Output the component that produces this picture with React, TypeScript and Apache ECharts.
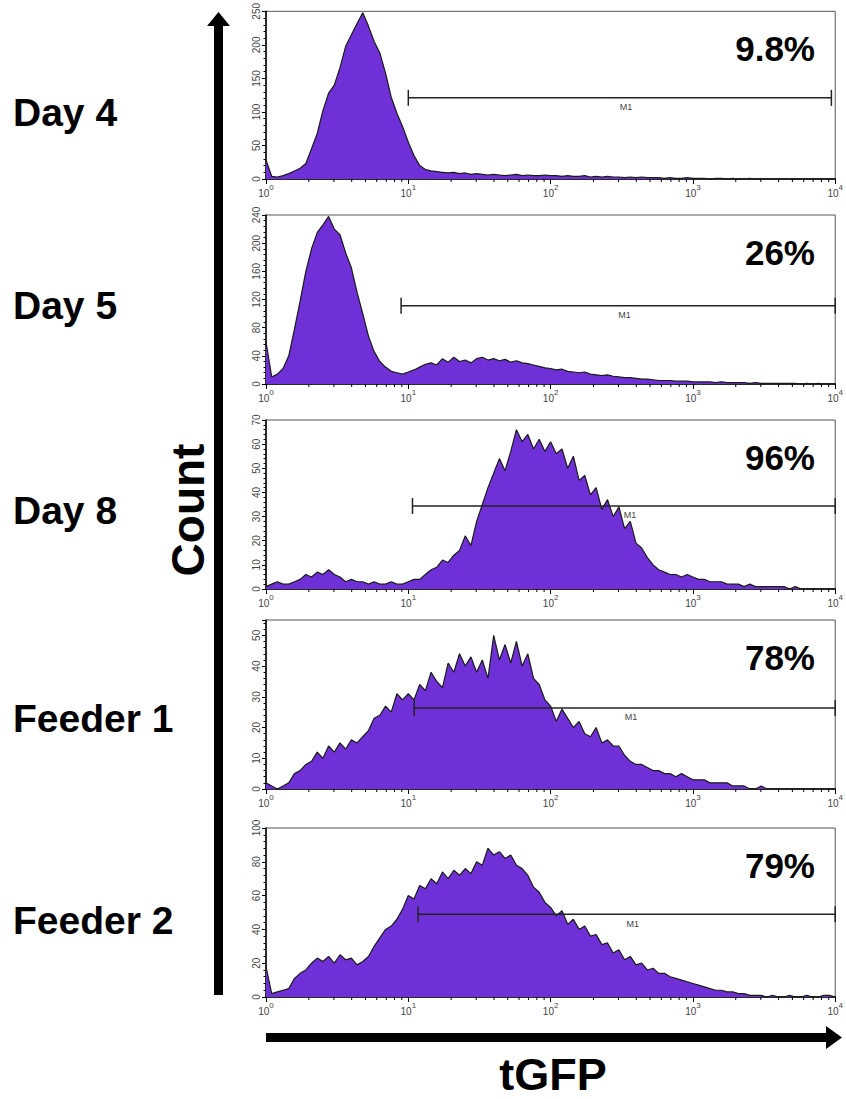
import React, { useEffect, useRef } from "react";
import * as echarts from "echarts";

// ---------- data ----------
const panelNames = ["Day 4", "Day 5", "Day 8", "Feeder 1", "Feeder 2"];
const percentLabels = ["9.8%", "26%", "96%", "78%", "79%"];
const yMax = [250, 240, 70, 55, 100];
const yInterval = [50, 40, 10, 10, 20];
const gateStart = [10, 8.9, 10.7, 11, 11.7];
const gateEnd = [9400, 10000, 10000, 10000, 10000];
const gateLevel = [121, 111, 34.4, 26.4, 49];
const gateLabel = "M1";
const xMinorTicks = [
  2, 3, 4, 5, 6, 7, 8, 9,
  20, 30, 40, 50, 60, 70, 80, 90,
  200, 300, 400, 500, 600, 700, 800, 900,
  2000, 3000, 4000, 5000, 6000, 7000, 8000, 9000,
];
const channelsPerDecade = 25;

const day4 = [
  28, 4, 3, 5, 8, 12, 16, 23, 45, 68,
  102, 128, 140, 166, 198, 215, 232, 248, 228, 205,
  188, 158, 122, 98, 78, 55, 35, 20, 14, 12,
  11, 10, 9, 10, 8, 9, 7, 8, 7, 6,
  7, 6, 5, 6, 7, 5, 6, 5, 5, 6,
  5, 5, 4, 5, 4, 4, 5, 3, 4, 3,
  4, 3, 3, 2, 3, 2, 3, 2, 2, 2,
  1, 2, 1, 1, 2, 1, 1, 1, 0, 1,
  1, 0, 1, 0, 0, 1, 0, 0, 0, 0,
  0, 0, 0, 0, 0, 0, 0, 0, 0, 0, 0,
];
const day5 = [
  60, 10, 14, 22, 40, 78, 118, 160, 192, 215,
  226, 238, 220, 212, 186, 165, 130, 100, 68, 46,
  32, 24, 18, 16, 14, 17, 20, 24, 28, 30,
  27, 36, 31, 38, 32, 34, 30, 36, 38, 34,
  36, 33, 35, 31, 33, 30, 29, 27, 25, 23,
  22, 20, 21, 18, 17, 16, 17, 14, 13, 12,
  13, 11, 10, 9, 9, 8, 7, 7, 6, 5,
  5, 5, 4, 4, 4, 3, 3, 3, 3, 2,
  3, 2, 2, 2, 2, 1, 2, 1, 1, 1,
  1, 1, 1, 1, 0, 1, 0, 1, 0, 0, 0,
];
const day8 = [
  1, 2, 3, 2, 2, 3, 4, 6, 5, 7,
  6, 8, 6, 5, 3, 4, 3, 3, 2, 3,
  2, 2, 3, 2, 2, 3, 4, 4, 6, 8,
  9, 12, 11, 14, 16, 22, 18, 28, 35, 42,
  48, 54, 49, 57, 66, 61, 64, 58, 62, 57,
  61, 56, 58, 50, 55, 45, 47, 39, 42, 33,
  37, 30, 34, 25, 28, 19, 17, 13, 10, 8,
  7, 6, 6, 5, 6, 5, 4, 4, 3, 3,
  3, 2, 2, 2, 1, 2, 1, 1, 1, 1,
  1, 1, 0, 1, 0, 0, 0, 0, 0, 0, 0,
];
const feeder1 = [
  2, 1, 0, 1, 2, 5, 6, 8, 9, 12,
  10, 14, 12, 15, 13, 16, 15, 17, 19, 23,
  24, 27, 25, 31, 29, 31, 29, 34, 32, 38,
  35, 33, 41, 38, 44, 40, 43, 38, 42, 36,
  50, 42, 47, 41, 48, 40, 44, 36, 34, 29,
  27, 22, 26, 23, 20, 22, 18, 17, 20, 15,
  16, 14, 14, 11, 9, 8, 8, 7, 6, 6,
  5, 5, 4, 5, 4, 3, 3, 3, 2, 2,
  2, 2, 1, 1, 1, 0, 0, 1, 0, 0,
  0, 0, 0, 0, 0, 0, 0, 0, 0, 0, 0,
];
const feeder2 = [
  18, 2, 3, 4, 5, 11, 14, 16, 20, 23,
  21, 24, 20, 25, 22, 23, 19, 21, 24, 30,
  35, 40, 42, 46, 52, 60, 58, 66, 64, 70,
  67, 74, 70, 75, 72, 76, 73, 80, 78, 88,
  84, 86, 82, 84, 78, 76, 72, 65, 62, 56,
  53, 48, 51, 43, 46, 40, 42, 36, 37, 31,
  32, 26, 28, 22, 24, 19, 20, 16, 17, 14,
  14, 12, 11, 10, 9, 8, 7, 6, 5, 4,
  4, 3, 3, 2, 2, 1, 1, 1, 0, 1,
  0, 0, 1, 0, 0, 1, 0, 0, 1, 1, 0,
];
const histograms = [day4, day5, day8, feeder1, feeder2];

// ---------- layout / style ----------
const W = 846;
const H = 1099;
const PLOT_LEFT = 266;
const PLOT_W = 572;
const PANEL_TOP = [10, 215, 420, 620, 828];
const PANEL_H = 169;
const LABEL_Y = [112, 305, 510, 718, 920];
const PCT_Y = [48, 252, 457, 657, 865];
const FILL = "#7030d8";
const FONT = '"Liberation Sans", Arial, sans-serif';

export default function App() {
  const ref = useRef<HTMLDivElement>(null);

  useEffect(() => {
    if (!ref.current) return;
    const chart = echarts.init(ref.current, undefined, { renderer: "svg" });

    const grids: any[] = [];
    const xAxes: any[] = [];
    const yAxes: any[] = [];
    const series: any[] = [];

    histograms.forEach((vals, k) => {
      grids.push({
        left: PLOT_LEFT,
        width: PLOT_W,
        top: PANEL_TOP[k],
        height: PANEL_H,
        show: true,
        borderColor: "#555",
        borderWidth: 1,
        backgroundColor: "transparent",
      });
      xAxes.push({
        gridIndex: k,
        type: "log",
        logBase: 10,
        min: 1,
        max: 10000,
        axisLine: { show: true, lineStyle: { color: "#000", width: 1.5 } },
        axisTick: { show: true, length: 5, lineStyle: { color: "#000", width: 1 } },
        splitLine: { show: false },
        axisLabel: {
          margin: 4,
          formatter: (v: number) => `{b|10}{s|${Math.round(Math.log10(v))}}`,
          rich: {
            b: { fontSize: 10, color: "#444", fontFamily: FONT, lineHeight: 15, verticalAlign: "bottom" },
            s: { fontSize: 8, color: "#444", fontFamily: FONT, lineHeight: 9, verticalAlign: "top" },
          },
        },
      });
      yAxes.push({
        gridIndex: k,
        type: "value",
        min: 0,
        max: yMax[k],
        interval: yInterval[k],
        axisLine: { show: true, lineStyle: { color: "#000", width: 1.5 } },
        axisTick: { show: true, length: 4, lineStyle: { color: "#000" } },
        minorTick: { show: true, splitNumber: 5, length: 2.5, lineStyle: { color: "#000" } },
        splitLine: { show: false },
        axisLabel: {
          rotate: 90,
          fontSize: 10,
          color: "#444",
          fontFamily: FONT,
          margin: 5,
          showMaxLabel: yMax[k] % yInterval[k] === 0,
        },
      });
      series.push({
        type: "line",
        xAxisIndex: k,
        yAxisIndex: k,
        data: vals.map((v, i) => [Math.pow(10, i / channelsPerDecade), v]),
        symbol: "none",
        lineStyle: { color: "#1a1a1a", width: 1.2 },
        areaStyle: { color: FILL, opacity: 1 },
        silent: true,
        z: 2,
      });
      series.push({
        type: "custom",
        xAxisIndex: k,
        yAxisIndex: k,
        data: xMinorTicks.map((v) => [v, 0]),
        clip: false,
        silent: true,
        z: 3,
        renderItem: (_p: any, api: any) => {
          const pt = api.coord([api.value(0), 0]);
          return {
            type: "line",
            shape: { x1: pt[0], y1: pt[1], x2: pt[0], y2: pt[1] + 3 },
            style: { stroke: "#000", lineWidth: 1 },
          };
        },
      });
      series.push({
        type: "custom",
        xAxisIndex: k,
        yAxisIndex: k,
        data: [[gateStart[k], gateEnd[k], gateLevel[k]]],
        encode: { x: [0, 1], y: 2 },
        clip: false,
        silent: true,
        z: 5,
        renderItem: (_p: any, api: any) => {
          const a = api.value(0);
          const b = api.value(1);
          const y = api.value(2);
          const p1 = api.coord([a, y]);
          const p2 = api.coord([b, y]);
          const mid = api.coord([Math.sqrt(a * b), y]);
          const st = { stroke: "#222", lineWidth: 1.5 };
          return {
            type: "group",
            children: [
              { type: "line", shape: { x1: p1[0], y1: p1[1], x2: p2[0], y2: p2[1] }, style: st },
              { type: "line", shape: { x1: p1[0], y1: p1[1] - 8, x2: p1[0], y2: p1[1] + 8 }, style: st },
              { type: "line", shape: { x1: p2[0], y1: p2[1] - 8, x2: p2[0], y2: p2[1] + 8 }, style: st },
              {
                type: "text",
                x: mid[0],
                y: p1[1] + 5,
                style: {
                  text: gateLabel,
                  fill: "#444",
                  font: `9px ${FONT}`,
                  textAlign: "left",
                  textVerticalAlign: "top",
                  align: "left",
                  verticalAlign: "top",
                },
              },
            ],
          };
        },
      });
    });

    const graphics: any[] = [];
    panelNames.forEach((name, k) => {
      graphics.push({
        type: "text",
        x: 13,
        y: LABEL_Y[k],
        style: {
          text: name,
          fill: "#000",
          font: `bold 39px ${FONT}`,
          textAlign: "left",
          textVerticalAlign: "middle",
          align: "left",
          verticalAlign: "middle",
        },
      });
      graphics.push({
        type: "text",
        x: 815,
        y: PCT_Y[k],
        style: {
          text: percentLabels[k],
          fill: "#000",
          font: `bold 35px ${FONT}`,
          textAlign: "right",
          textVerticalAlign: "middle",
          align: "right",
          verticalAlign: "middle",
        },
      });
    });
    graphics.push({
      type: "text",
      x: 188,
      y: 510,
      rotation: Math.PI / 2,
      style: {
        text: "Count",
        fill: "#000",
        font: `bold 46px ${FONT}`,
        textAlign: "center",
        textVerticalAlign: "middle",
        align: "center",
        verticalAlign: "middle",
      },
    });
    graphics.push({
      type: "text",
      x: 553,
      y: 1074,
      style: {
        text: "tGFP",
        fill: "#000",
        font: `bold 45px ${FONT}`,
        textAlign: "center",
        textVerticalAlign: "middle",
        align: "center",
        verticalAlign: "middle",
      },
    });
    // vertical arrow
    graphics.push({
      type: "polygon",
      shape: {
        points: [
          [214, 995], [223, 995], [223, 26], [230, 26], [218.5, 12], [207, 26], [214, 26],
        ],
      },
      style: { fill: "#000" },
    });
    // horizontal arrow
    graphics.push({
      type: "polygon",
      shape: {
        points: [
          [266, 1033], [826, 1033], [826, 1026], [842, 1037.5], [826, 1049], [826, 1042], [266, 1042],
        ],
      },
      style: { fill: "#000" },
    });

    chart.setOption({
      animation: false,
      backgroundColor: "#fff",
      grid: grids,
      xAxis: xAxes,
      yAxis: yAxes,
      series,
      graphic: graphics,
    });

    return () => chart.dispose();
  }, []);

  return (
    <div
      ref={ref}
      style={{ position: "absolute", left: 0, top: 0, width: W, height: H }}
    />
  );
}
